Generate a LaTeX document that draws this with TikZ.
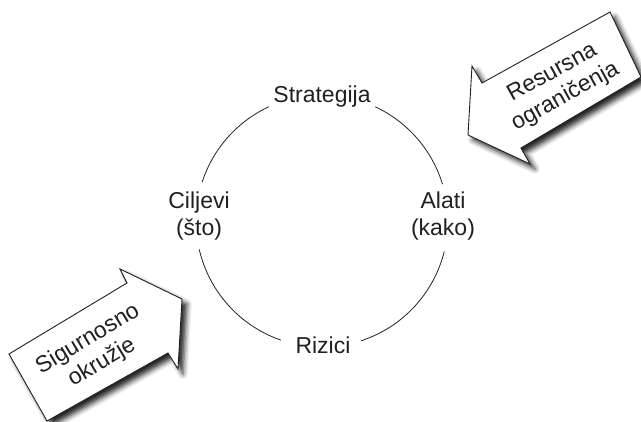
\documentclass[tikz,border=0pt]{standalone}
\usepackage{fontspec}
\setmainfont{Liberation Sans}
\usetikzlibrary{shadows.blur}
\definecolor{ink}{HTML}{231F20}
\tikzset{
  lbl/.style={font=\fontsize{23}{27}\selectfont, text=ink, align=center, inner sep=0pt},
  ring/.style={draw=ink, line width=0.8pt},
  bigarrow/.style={draw=ink, line width=0.9pt, fill=white, line join=miter,
    blur shadow={shadow xshift=5pt, shadow yshift=-5pt, shadow blur radius=5pt, shadow opacity=85}},
}
\begin{document}
\begin{tikzpicture}[x=1pt,y=-1pt]
\useasboundingbox (0,0) rectangle (641,422);
\coordinate (c) at (322,221);
% circle labels
\node[lbl] (strat) at (322,97) {Strategija};
\node[lbl] (cilj) at (199,216) {Ciljevi\\(što)};
\node[lbl] (alat) at (443,216) {Alati\\(kako)};
\node[lbl] (riz) at (323,345) {Rizici};
% arcs of the circle between labels
\draw[ring] ([shift={(-115:126)}]c) arc[start angle=-115, end angle=-162, radius=126];
\draw[ring] ([shift={(-65:126)}]c) arc[start angle=-65, end angle=-17, radius=126];
\draw[ring] ([shift={(-193:126)}]c) arc[start angle=-193, end angle=-251, radius=126];
\draw[ring] ([shift={(-288:126)}]c) arc[start angle=-288, end angle=-346, radius=126];
% upper-right arrow
\draw[bigarrow] (610,12) -- (641,77) -- (521,148) -- (530,164) -- (468,135)
  -- (472,66) -- (482,83) -- cycle;
\node[lbl, rotate=29] (res) at (559,85) {Resursna\\ograničenja};
% lower-left arrow
\draw[bigarrow] (9,354) -- (127,283) -- (120,269) -- (182,299) -- (178,369)
  -- (168,353) -- (47,421) -- cycle;
\node[lbl, rotate=31] (sig) at (95,351) {Sigurnosno\\okružje};
\end{tikzpicture}
\end{document}
